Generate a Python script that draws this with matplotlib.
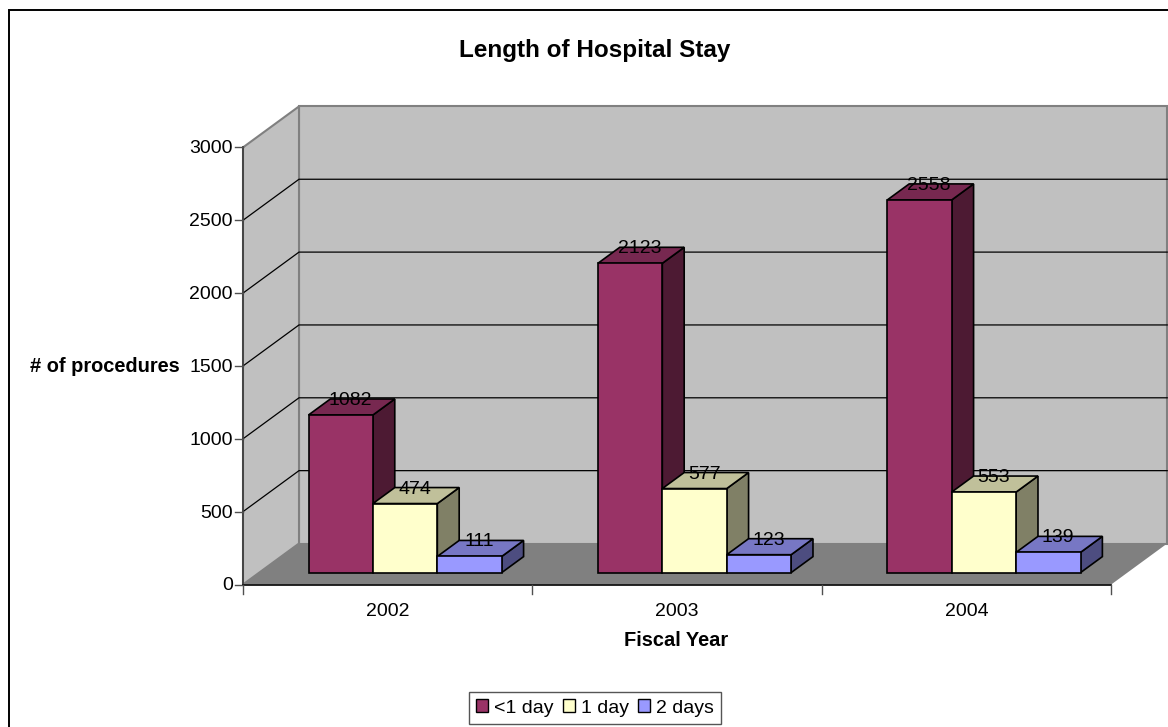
import numpy as np
import matplotlib.pyplot as plt
from matplotlib.patches import Polygon, Patch, Rectangle

plt.rcParams['font.family'] = ['Liberation Sans', 'DejaVu Sans']

years = ['2002', '2003', '2004']
series = ['<1 day', '1 day', '2 days']
lt1_day = [1082, 2123, 2558]
one_day = [474, 577, 553]
two_days = [111, 123, 139]
y_ticks = [0, 500, 1000, 1500, 2000, 2500, 3000]

front_cols = ['#993366', '#FFFFCC', '#9999FF']
top_cols = ['#772850', '#C0C09A', '#7777C4']
side_cols = ['#4D1A33', '#808066', '#4D4D80']

W, H = 1168, 727
fig = plt.figure(figsize=(W / 100, H / 100), dpi=100)
ax = fig.add_axes([0, 0, 1, 1])

# one unit of x = one category, y is in # of procedures
cat_px = 289.4
val_px = 0.1457
x0_px, y0_px = 243, 584.5
ax.set_xlim(-x0_px / cat_px, (W - x0_px) / cat_px)
ax.set_ylim((y0_px - H) / val_px, y0_px / val_px)
ax.axis('off')

# wall depth expressed in data units
dep_x = 56 / cat_px
dep_y = 41 / val_px
y_max = y_ticks[-1]
n = len(years)


def pr(c, v, d=0.0):
    return (c + d * dep_x, v + d * dep_y)


def poly(pts, face, edge='none', lw=0.0, z=1):
    ax.add_patch(Polygon(pts, closed=True, facecolor=face, edgecolor=edge, linewidth=lw, zorder=z, joinstyle='miter'))


# outer frame of the chart area, only its top and left edge fall inside the image
ax.add_patch(Rectangle((9 / W, -0.05), 1.1, 1.05 - 9.5 / H, transform=ax.transAxes, fill=False, edgecolor='black', linewidth=1.4, zorder=0))

# walls and floor
poly([pr(0, 0, 1), pr(n, 0, 1), pr(n, y_max, 1), pr(0, y_max, 1)], '#C0C0C0', '#808080', 1.5)
poly([pr(0, 0), pr(0, 0, 1), pr(0, y_max, 1), pr(0, y_max)], '#C0C0C0', '#808080', 1.5)
poly([pr(0, 0), pr(n, 0), pr(n, 0, 1), pr(0, 0, 1)], '#808080')

# gridlines
for v in y_ticks[1:-1]:
    ax.plot(*zip(pr(0, v), pr(0, v, 1), pr(n, v, 1)), color='black', lw=0.9, zorder=2, solid_joinstyle='miter')

# axes lines and ticks
ax.plot(*zip(pr(0, 0), pr(0, y_max)), color='#404040', lw=1.3, zorder=3)
ax.plot(*zip(pr(0, 0), pr(n, 0)), color='black', lw=1.2, zorder=3)
tick_len_x = 8 / cat_px
tick_len_y = 9 / val_px
text_drop = 1.5 / val_px
for v in y_ticks:
    ax.plot([-tick_len_x, 0], [v, v], color='#505050', lw=1.0, zorder=3)
    ax.text(-10 / cat_px, v - text_drop, str(v), ha='right', va='center', fontsize=14, color='black')
for i in range(n + 1):
    ax.plot([i, i], [0, -tick_len_y], color='#505050', lw=1.0, zorder=3)
for i, yr in enumerate(years):
    ax.text(i + 0.5, -160 - text_drop, yr, ha='center', va='center_baseline', fontsize=14, color='black')

# bars, drawn left to right so that the next bar covers the previous side
bar_w = 64.4 / cat_px
bar_shift = 1.2 / cat_px
d_front = 0.29
d_back = 0.68
values = [lt1_day, one_day, two_days]
for i in range(n):
    start = i + 0.5 - 1.5 * bar_w + bar_shift
    for s in range(3):
        v = values[s][i]
        c0 = start + s * bar_w
        c1 = c0 + bar_w
        poly([pr(c1, 0, d_front), pr(c1, 0, d_back), pr(c1, v, d_back), pr(c1, v, d_front)], side_cols[s], 'black', 1.2, 4)
        poly([pr(c0, v, d_front), pr(c1, v, d_front), pr(c1, v, d_back), pr(c0, v, d_back)], top_cols[s], 'black', 1.2, 4)
        poly([pr(c0, 0, d_front), pr(c1, 0, d_front), pr(c1, v, d_front), pr(c0, v, d_front)], front_cols[s], 'black', 1.2, 4)
        xl = pr((c0 + c1) / 2, v, 0.46)[0]
        yl = pr((c0 + c1) / 2, v, d_back)[1] - text_drop
        ax.text(xl, yl, str(v), ha='center', va='center', fontsize=14, color='black', zorder=6)

ax.text(595 / W, 1 - 51 / H, 'Length of Hospital Stay', transform=ax.transAxes, ha='center', va='center', fontsize=17.5, fontweight='bold')
ax.text(105 / W, 1 - 367 / H, '# of procedures', transform=ax.transAxes, ha='center', va='center', fontsize=14.4, fontweight='bold')
ax.text(676 / W, 1 - 640 / H, 'Fiscal Year', transform=ax.transAxes, ha='center', va='center', fontsize=14.4, fontweight='bold')

handles = [Patch(facecolor=front_cols[k], edgecolor='black', linewidth=1.0, label=series[k]) for k in range(3)]
leg = ax.legend(handles=handles, ncol=3, loc='center', bbox_to_anchor=(595 / W, 1 - 708 / H), fontsize=14,
                handlelength=0.6, handleheight=0.6, handletextpad=0.3, columnspacing=0.5, borderpad=0.4,
                borderaxespad=0, fancybox=False, framealpha=1, edgecolor='#555555')
leg.get_frame().set_linewidth(1.0)

fig.savefig('out.png', dpi=100)
